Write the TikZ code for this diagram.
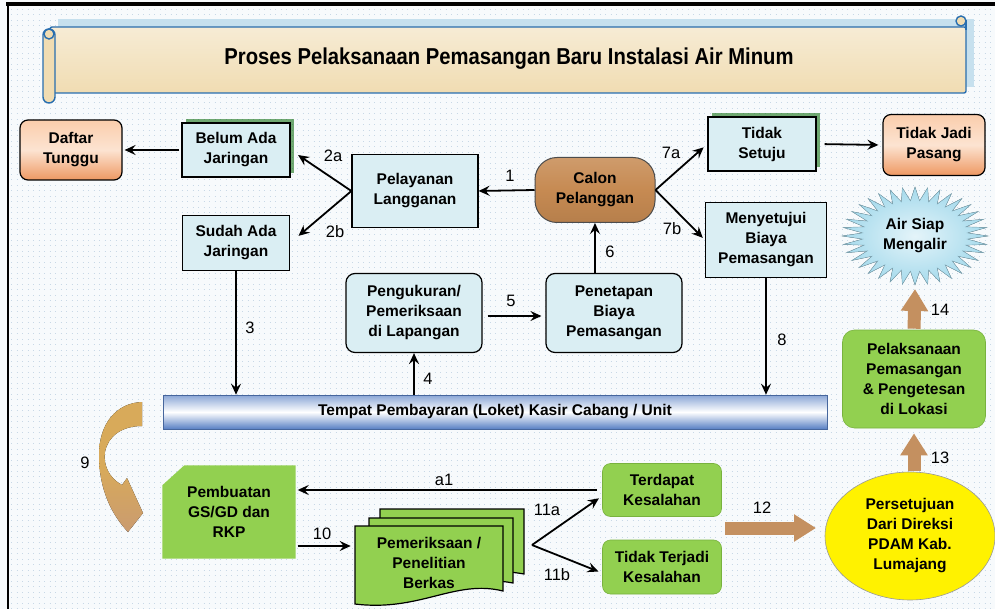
\documentclass[tikz,border=0pt]{standalone}
\usepackage{fontspec}
\setmainfont{Liberation Sans}
\newfontfamily\titlefont{Liberation Sans}[FakeStretch=0.88]
\usetikzlibrary{arrows.meta,shapes.geometric,shadows,calc}

\definecolor{paper}{RGB}{247,250,252}
\definecolor{gridcol}{RGB}{200,216,230}
\definecolor{boxblue}{RGB}{218,238,243}
\definecolor{leaf}{RGB}{146,208,80}
\definecolor{leafline}{RGB}{120,178,62}
\definecolor{cork}{RGB}{196,144,96}
\definecolor{wood}{RGB}{198,138,82}
\definecolor{parch}{RGB}{240,220,178}
\definecolor{scrollline}{RGB}{40,110,175}
\definecolor{scrollshade}{RGB}{198,224,238}
\definecolor{peach}{RGB}{250,205,172}
\definecolor{peachdark}{RGB}{238,152,98}
\definecolor{barblue}{RGB}{88,128,196}
\definecolor{sky}{RGB}{165,218,236}
\definecolor{gold}{RGB}{216,170,90}

\tikzset{
  txt/.style={font=\bfseries\fontsize{15.5}{20}\selectfont, align=center},
  box/.style={txt, draw=black, line width=1.2pt, fill=boxblue, inner sep=2pt},
  roundbox/.style={box, rounded corners=9pt},
  greenshadow/.style={drop shadow={shadow xshift=4pt, shadow yshift=4pt, fill=green!40!black, opacity=0.55}},
  endbox/.style={box, rounded corners=8pt, top color=peach, bottom color=peachdark, middle color=peach!55!white},
  leafbox/.style={txt, draw=leafline, line width=0.6pt, fill=leaf, rounded corners=8pt, inner sep=2pt},
  docpage/.style={draw=black, line width=1.2pt, fill=leaf},
  flow/.style={-{Stealth[length=11pt,width=10pt,inset=4pt]}, line width=1.8pt},
  blockflow/.style={draw=cork, line width=13pt, -{Triangle[length=22pt,width=26pt]}},
  num/.style={font=\fontsize{16.5}{19}\selectfont},
  scroll/.style={draw=scrollline, line width=1.4pt, fill=parch},
  griddot/.style={gridcol, line width=0.6pt, dash pattern=on 0.6pt off 4.9pt}
}

\begin{document}
\begin{tikzpicture}[x=1pt,y=-1pt]
\useasboundingbox (0,0) rectangle (995,609);
% background and frame
\fill[paper] (0,0) rectangle (995,609);
\foreach \gy in {9,14.5,...,609}
  \draw[griddot] (11,\gy) -- (995,\gy);
\draw[line width=3.5pt] (6,4) -- (995,4);
\draw[line width=2pt] (8,3) -- (8,609);

% title scroll
\fill[scrollshade] (58,19) rectangle (974,87);
\draw[scroll, top color=parch!55!white, bottom color=parch, rounded corners=2pt] (50,27) rectangle (966,93);
\draw[scroll, rounded corners=6pt] (43,29) rectangle (55,103);
\draw[scroll] (49,34) circle (5);
\draw[scroll] (966,30) -- (966,20);
\draw[scroll] (961,21) circle (5);
\node[font=\titlefont\bfseries\fontsize{23}{26}\selectfont] (title) at (509,59) {Proses Pelaksanaan Pemasangan Baru Instalasi Air Minum};

% top row
\node[endbox, minimum width=102pt, minimum height=60pt] (daftar) at (71,150) {Daftar\\Tunggu};
\node[box, greenshadow, minimum width=108pt, minimum height=54pt] (belum) at (236,150) {Belum Ada\\Jaringan};
\node[box, minimum width=107pt, minimum height=55pt] (sudah) at (236,243) {Sudah Ada\\Jaringan};
\node[box, minimum width=126pt, minimum height=73pt] (pelayanan) at (415,191) {Pelayanan\\Langganan};
\node[box, rounded corners=22pt, draw=black!70, line width=1pt, top color=wood!85!white, bottom color=wood!92!black, middle color=wood,
  minimum width=120pt, minimum height=65pt] (calon) at (595,190) {Calon\\Pelanggan};
\node[box, greenshadow, minimum width=108pt, minimum height=54pt] (setuju) at (762,144) {Tidak\\Setuju};
\node[endbox, minimum width=102pt, minimum height=61pt] (jadi) at (934,145) {Tidak Jadi\\Pasang};
\node[box, minimum width=121pt, minimum height=75pt] (menyetujui) at (766,240) {Menyetujui\\Biaya\\Pemasangan};

% starburst
\fill[inner color=sky!30!white, outer color=sky, draw=sky!75!black, line width=0.4pt]
  plot[domain=0:360, samples=73, variable=\t]
  ({915+73*(0.86+0.14*cos(36*\t))*cos(\t)}, {236+49*(0.86+0.14*cos(36*\t))*sin(\t)}) -- cycle;
\node[txt] (air) at (915,236) {Air Siap\\Mengalir};
\coordinate (airfoot) at (915,289);

% middle row
\node[roundbox, minimum width=136pt, minimum height=79pt] (ukur) at (414,313) {Pengukuran/\\Pemeriksaan\\di Lapangan};
\node[roundbox, minimum width=136pt, minimum height=79pt] (tetap) at (614,313) {Penetapan\\Biaya\\Pemasangan};
\node[txt, draw=barblue!80!black, line width=0.6pt, top color=barblue!70!white, bottom color=barblue, middle color=white,
  minimum width=664pt, minimum height=34pt] (loket) at (495,412) {Tempat Pembayaran (Loket) Kasir Cabang / Unit};
\node[leafbox, rounded corners=12pt, minimum width=143pt, minimum height=98pt] (lokasi) at (914,379)
  {Pelaksanaan\\Pemasangan\\\& Pengetesan\\di Lokasi};

% bottom row
\node[txt, minimum width=133pt, minimum height=93pt] (gsgd) at (229,512) {};
\fill[leaf] ($(gsgd.north west)+(0,20)$) -- ($(gsgd.north west)+(22,0)$) -- (gsgd.north east)
  -- (gsgd.south east) -- (gsgd.south west) -- cycle;
\node[txt] at (gsgd) {Pembuatan\\GS/GD dan\\RKP};

\draw[docpage] (380,509) -- (524,509) -- (524,574) .. controls (480,566) and (450,580) .. (380,578) -- cycle;
\draw[docpage] (369,518) -- (513,518) -- (513,583) .. controls (470,575) and (440,590) .. (369,587) -- cycle;
\draw[docpage] (355,526) -- (503,526) -- (503,591) .. controls (455,579) and (420,612) .. (355,604) -- cycle;
\node[txt] (berkas) at (429,563) {Pemeriksaan /\\Penelitian\\Berkas};

\node[leafbox, minimum width=119pt, minimum height=53pt] (salah) at (662,490) {Terdapat\\Kesalahan};
\node[leafbox, minimum width=119pt, minimum height=54pt] (benar) at (662,567) {Tidak Terjadi\\Kesalahan};
\node[txt, ellipse, draw=black!40, line width=0.6pt, fill=yellow, minimum width=170pt, minimum height=128pt] (direksi) at (910,536)
  {Persetujuan\\Dari Direksi\\PDAM Kab.\\Lumajang};

% curved arrow 9
\fill[top color=gold, bottom color=cork!90!white, middle color=gold]
  (142,402) .. controls (116,403) and (99,424) .. (99,455)
  .. controls (99,490) and (112,515) .. (128,532)
  -- (143,513) -- (127,478) -- (122,485)
  .. controls (109,478) and (103,465) .. (105,452)
  .. controls (108,436) and (122,426) .. (142,426) -- cycle;

% block arrows
\coordinate (a12s) at (725,528);
\coordinate (a12e) at (816,528);
\draw[blockflow] (a12s) -- (a12e);
\draw[blockflow, shorten <=1pt, shorten >=5pt] (direksi.north -| lokasi.south) -- (lokasi.south);
\draw[blockflow, shorten <=1pt] (lokasi.north) -- (airfoot);

% connectors
\draw[flow] (calon.west) -- (pelayanan.east);
\draw[flow, shorten >=9pt] (pelayanan.west) -- (belum.east);
\draw[flow, shorten >=11pt] (pelayanan.west) -- (sudah.east);
\draw[flow, shorten <=2pt, shorten >=2pt] (belum.west) -- (daftar.east);
\draw[flow] (sudah.south) -- (sudah.south |- loket.north);
\draw[flow] (ukur.south |- loket.north) -- (ukur.south);
\draw[flow, shorten <=5pt, shorten >=4pt] ($(ukur.east)+(0,3)$) -- ($(tetap.west)+(0,3)$);
\draw[flow, line width=2.8pt] (tetap.north -| calon.south) -- (calon.south);
\draw[flow, shorten >=5pt] (calon.east) -- (setuju.west);
\draw[flow, shorten >=3pt] (calon.east) -- (menyetujui.west);
\draw[flow, shorten <=8pt, shorten >=4pt] (setuju.east) -- (jadi.east -| jadi.west);
\draw[flow] (menyetujui.south) -- (menyetujui.south |- loket.north);
\draw[flow, shorten <=5pt, shorten >=2pt] (salah.west) -- (salah.west -| gsgd.east);
\draw[flow, shorten <=2pt, shorten >=2pt] ($(gsgd.east)+(0,34)$) -- ($(gsgd.east)+(57,34)$);
\coordinate (fork11) at (532,545);
\draw[flow, shorten >=4pt] (fork11) -- ($(salah.west)+(0,6)$);
\draw[flow, shorten >=4pt] (fork11) -- ($(benar.west)+(0,6)$);

% step numbers
\node[num] at (510,176) {1};
\node[num] at (333,156) {2a};
\node[num] at (335,232) {2b};
\node[num] at (250,328) {3};
\node[num] at (428,379) {4};
\node[num] at (511,301) {5};
\node[num] at (610,252) {6};
\node[num] at (671,153) {7a};
\node[num] at (672,229) {7b};
\node[num] at (782,340) {8};
\node[num] at (85,463) {9};
\node[num] at (322,534) {10};
\node[num] at (547,510) {11a};
\node[num] at (557,575) {11b};
\node[num] at (762,508) {12};
\node[num] at (940,458) {13};
\node[num] at (940,310) {14};
\node[num] at (444,480) {a1};
\end{tikzpicture}
\end{document}
